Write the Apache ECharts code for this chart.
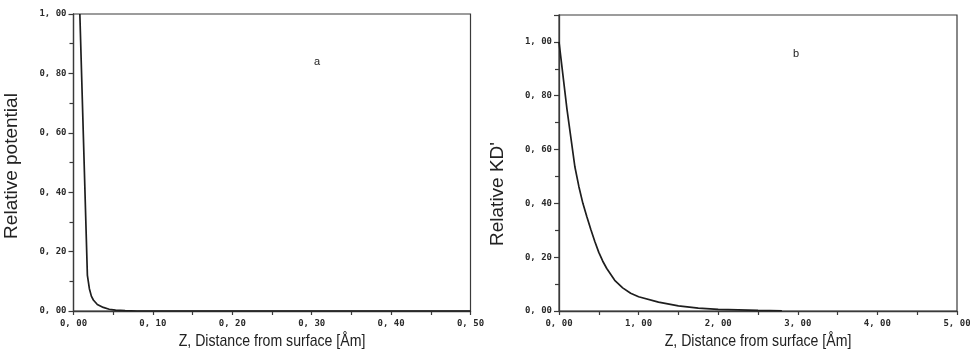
<!DOCTYPE html>
<html><head><meta charset="utf-8">
<script src="https://cdn.jsdelivr.net/npm/echarts@6/dist/echarts.min.js"></script>
<style>html,body{margin:0;padding:0;background:#fff}#c{width:970px;height:353px}</style>
</head><body><div id="c"></div>
<script>
// Panel a: relative potential vs distance
const zA = [0.008, 0.0175, 0.020, 0.0225, 0.025, 0.030, 0.0375, 0.045, 0.053, 0.065, 0.080, 0.200, 0.350, 0.500];
const vA = [1.000, 0.120, 0.075, 0.050, 0.037, 0.022, 0.012, 0.006, 0.003, 0.001, 0.000, 0.000, 0.000, 0.000];
// Panel b: relative KD' vs distance
const zB = [0.00, 0.10, 0.20, 0.25, 0.30, 0.35, 0.40, 0.45, 0.50, 0.55, 0.60, 0.70, 0.80, 0.90, 1.00, 1.25, 1.50, 1.75, 2.00, 2.50, 2.80];
const vB = [1.000, 0.750, 0.535, 0.462, 0.400, 0.350, 0.303, 0.258, 0.218, 0.185, 0.158, 0.114, 0.086, 0.066, 0.053, 0.033, 0.019, 0.011, 0.006, 0.002, 0.001];
const panelLabels = ['a', 'b'];
const xTitle = 'Z, Distance from surface [Åm]';
const yTitles = ['Relative potential', "Relative KD'"];

function fmt(v) { return v.toFixed(2).replace('.', ', '); }
const ink = '#3a3a3a';
const tickFont = { fontFamily: 'DejaVu Sans Mono', fontSize: 9, color: '#2a2a2a', fontWeight: 'bold' };

function xAxis(idx, max, interval) {
  return {
    type: 'value', gridIndex: idx, min: 0, max: max, interval: interval,
    axisLine: { lineStyle: { color: ink, width: 1.3 } },
    axisTick: { show: true, inside: false, length: 4, lineStyle: { color: ink, width: 1.2 } },
    minorTick: { show: true, splitNumber: 2, length: 4, lineStyle: { color: ink, width: 1.2 } },
    splitLine: { show: false },
    axisLabel: Object.assign({ margin: 8, formatter: fmt }, tickFont)
  };
}
function yAxis(idx, max, name, pad) {
  return {
    type: 'value', gridIndex: idx, min: 0, max: max, interval: 0.2,
    name: name, nameLocation: 'middle', nameGap: 52,
    nameTextStyle: { fontFamily: 'Liberation Sans', fontSize: 19, color: '#222', padding: pad },
    axisLine: { lineStyle: { color: ink, width: 1.3 } },
    axisTick: { show: true, inside: false, length: 5, lineStyle: { color: ink, width: 1.2 } },
    minorTick: { show: true, splitNumber: 2, length: 4, lineStyle: { color: ink, width: 1.2 } },
    splitLine: { show: false },
    axisLabel: Object.assign({ margin: 7, formatter: v => (v > 1.05 ? '' : fmt(v)) }, tickFont)
  };
}
function xName(cx) {
  return { type: 'text', x: cx, y: 333, scaleX: 0.83, originX: 0, originY: 0,
    style: { text: xTitle, fontFamily: 'Liberation Sans', fontSize: 17, fill: '#222', align: 'center', verticalAlign: 'top' } };
}

const chart = echarts.init(document.getElementById('c'), null, { renderer: 'canvas' });
chart.setOption({
  animation: false,
  backgroundColor: '#fff',
  grid: [
    { left: 73.5, top: 14, width: 397, height: 297, show: true, borderColor: ink, borderWidth: 1.2, outerBoundsMode: 'none' },
    { left: 559, top: 15, width: 398, height: 296, show: true, borderColor: ink, borderWidth: 1.2, outerBoundsMode: 'none' }
  ],
  xAxis: [xAxis(0, 0.5, 0.1), xAxis(1, 5, 1)],
  yAxis: [yAxis(0, 1.0, yTitles[0], [0, 7, 0, 0]), yAxis(1, 1.1, yTitles[1], [0, 62, 0, 0])],
  series: [
    { type: 'line', xAxisIndex: 0, yAxisIndex: 0, data: zA.map((z, i) => [z, vA[i]]), showSymbol: false,
      lineStyle: { color: '#1e1e1e', width: 1.7 }, smooth: false },
    { type: 'line', xAxisIndex: 1, yAxisIndex: 1, data: zB.map((z, i) => [z, vB[i]]), showSymbol: false,
      lineStyle: { color: '#1e1e1e', width: 1.7 }, smooth: false }
  ],
  graphic: [
    xName(272), xName(758),
    { type: 'text', left: 314, top: 56, style: { text: panelLabels[0], fontFamily: 'Liberation Sans', fontSize: 11, fill: '#222' } },
    { type: 'text', left: 793, top: 48, style: { text: panelLabels[1], fontFamily: 'Liberation Sans', fontSize: 11, fill: '#222' } }
  ]
});
</script>
</body></html>
